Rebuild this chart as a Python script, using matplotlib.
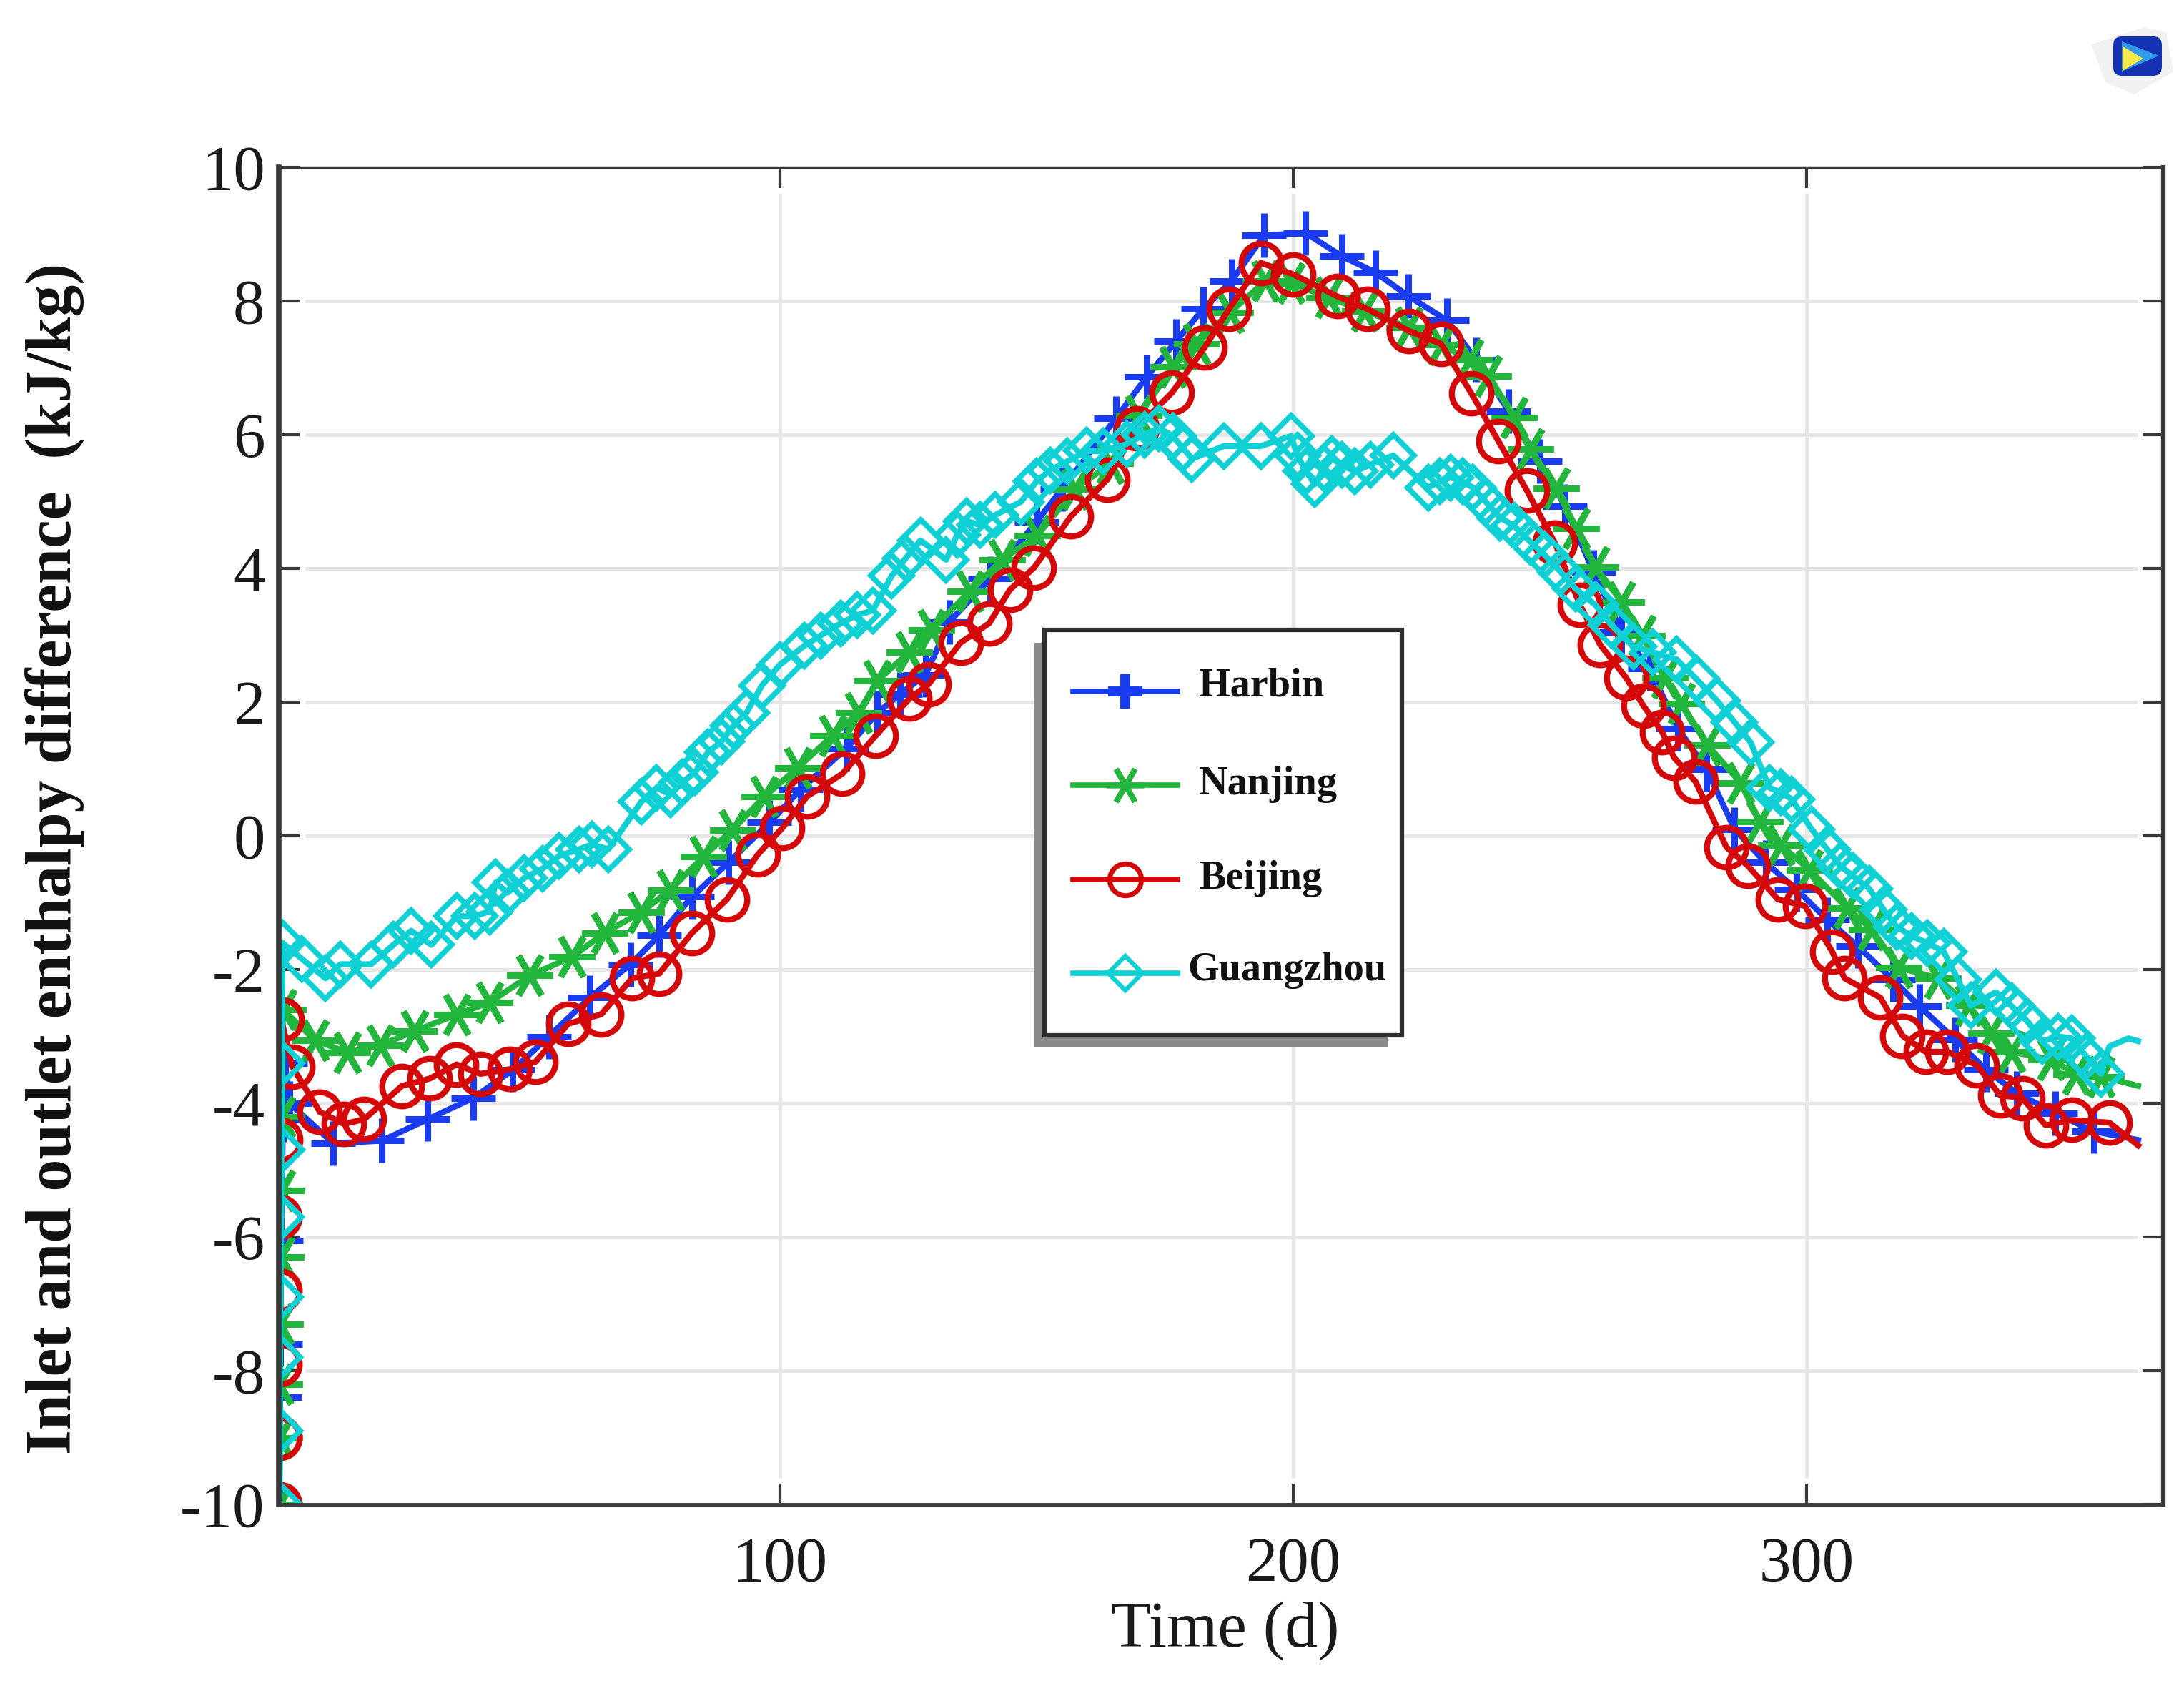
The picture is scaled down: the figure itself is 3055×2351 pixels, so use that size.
import matplotlib
matplotlib.use('Agg')
import matplotlib.pyplot as plt
from matplotlib.lines import Line2D
from matplotlib.patches import FancyBboxPatch, Polygon, Rectangle

W, H = 3055, 2351

harbin_x = [2.5, 2.6, 2.7, 2.8, 3.0, 3.2, 3.6, 4.5, 13, 22.5, 31.4, 40.3, 48, 55, 63, 70.9, 76.5, 82.9, 90, 98,
            104, 113, 119, 123.4, 128.4, 133, 141, 150, 155, 165.5, 171.5, 177.2, 182.5, 188, 194.3, 202.4,
            209.5, 216, 222.5, 230, 235.6, 242, 248, 253, 258.5, 264, 269.5, 275, 280.5, 286, 292, 298, 304,
            310, 316.8, 322, 329, 335, 341, 348.5, 356, 364.6]
harbin_y = [-10, -8.4, -7.6, -6.05, -5.3, -4.25, -3.4, -4.0, -4.6, -4.56, -4.24, -3.92, -3.5, -3.0, -2.42, -1.92,
            -1.49, -0.91, -0.4, 0.2, 0.69, 1.31, 1.84, 2.12, 2.41, 3.2, 3.85, 4.7, 5.19, 6.25, 6.87, 7.4, 7.88,
            8.3, 8.98, 9.02, 8.67, 8.43, 8.07, 7.71, 7.12, 6.35, 5.6, 4.93, 3.95, 3.05, 2.5, 1.6, 1.0, 0.1, -0.4,
            -0.8, -1.25, -1.65, -2.15, -2.55, -3.05, -3.5, -3.85, -4.15, -4.42, -4.55]

nanjing_x = [2.5, 2.6, 2.6, 2.7, 2.8, 2.9, 3.0, 3.2, 9.5, 15.8, 22.2, 28.9, 37.1, 43.5, 51.3, 59.5, 65.9, 73, 78.7,
             85.1, 90.8, 97, 103.5, 110.3, 115.3, 119, 125.2, 129.6, 137, 143.3, 150.1, 157.6, 164.4, 170, 176.6,
             181.2, 187.7, 194.6, 199.6, 207, 213.9, 222.6, 228.8, 234.4, 238.1, 243.1, 246.2, 251.2, 255.2,
             258.9, 264, 268, 272.4, 275.6, 280.7, 287.2, 290.9, 295, 300.6, 307.9, 312.7, 318, 325.6, 331.6,
             335.9, 340, 347.7, 352.5, 357.4, 364.6]
nanjing_y = [-10, -9.0, -8.2, -7.3, -6.3, -5.3, -4.2, -2.6, -3.06, -3.24, -3.13, -2.92, -2.67, -2.49, -2.09, -1.81,
             -1.45, -1.14, -0.81, -0.31, 0.09, 0.59, 1.02, 1.5, 1.84, 2.32, 2.75, 3.08, 3.66, 4.13, 4.49, 5.19,
             5.57, 6.29, 7.02, 7.36, 7.83, 8.3, 8.27, 8.05, 7.85, 7.6, 7.35, 7.12, 6.88, 6.26, 5.79, 5.2, 4.6,
             4.02, 3.5, 3.0, 2.36, 1.98, 1.36, 0.79, 0.21, -0.14, -0.51, -1.08, -1.4, -1.97, -2.13, -2.54, -2.95,
             -3.23, -3.35, -3.56, -3.6, -3.74]

beijing_x = [2.5, 2.5, 2.5, 2.5, 2.6, 2.7, 2.9, 5, 10.4, 15.1, 19, 26.4, 31.8, 37, 41.7, 47.4, 52.4, 58.8, 65.2, 71.2,
             76.5, 82.9, 89.7, 95.7, 100.5, 105.3, 112.2, 118.7, 125.2, 129, 135.2, 140.8, 144.8, 149.5, 156.7,
             163.8, 169.5, 176.4, 182.8, 187.5, 193.7, 200, 208.6, 214.5, 222.6, 228.8, 234.7, 240, 245.5, 251,
             255.9, 259.8, 264.9, 268.2, 271.9, 274.2, 278.4, 284.4, 288.6, 294.4, 299.7, 305, 307.4, 314.4,
             318.7, 323.2, 327.5, 333.2, 337.7, 342, 346.6, 351.7, 359, 364.6]
beijing_y = [-10, -9.0, -7.9, -6.8, -5.7, -4.55, -2.75, -3.45, -4.13, -4.31, -4.24, -3.74, -3.63, -3.42, -3.56,
             -3.49, -3.38, -2.81, -2.67, -2.13, -2.06, -1.45, -0.95, -0.28, 0.12, 0.59, 0.93, 1.5, 2.05, 2.27,
             2.89, 3.18, 3.68, 4.01, 4.78, 5.33, 6.1, 6.63, 7.31, 7.88, 8.57, 8.4, 8.07, 7.88, 7.55, 7.36, 6.62,
             5.9, 5.17, 4.38, 3.45, 2.86, 2.36, 1.95, 1.55, 1.17, 0.81, -0.17, -0.45, -0.95, -1.05, -1.73, -2.13,
             -2.42, -2.99, -3.23, -3.23, -3.43, -3.88, -3.92, -4.33, -4.25, -4.29, -4.63]

guangzhou_x = [2.5, 2.6, 2.6, 2.7, 2.8, 2.9, 3.0, 3.1, 6.9, 11.5, 14.4, 20.4, 24.7, 28.2, 32.1, 37.1, 40.5, 43.5, 44.6,
               47, 50.2, 53.8, 57, 60.9, 63.4, 66.6, 73, 76, 78.7, 81, 83.5, 86, 88.6, 91, 93.5, 96.5, 100, 104.7,
               108, 111.9, 115, 118.1, 121.8, 124.5, 127.4, 132.4, 134.5, 136.4, 139, 142, 147, 150, 152.6, 156,
               159.8, 163, 167.5, 171, 173.8, 176.6, 178.5, 180.3, 186.5, 193.7, 199.6, 200.8, 202.5, 204.2, 206,
               207.6, 209.5, 212, 215, 219.5, 226.3, 228.5, 230.7, 233, 235, 237.5, 240.3, 243, 246.2, 249, 252.1,
               255, 258.9, 262, 266.3, 270, 274.7, 278.5, 282.6, 286, 289.1, 292.8, 295, 297.1, 301, 304, 306.6,
               309, 312.2, 315, 317.6, 320.5, 323.5, 326.7, 329.5, 332, 336.9, 340, 343.1, 346, 349, 351.7, 354.5,
               357.4, 359, 362.7, 364.6]
guangzhou_y = [-10, -8.9, -7.8, -6.9, -5.7, -4.7, -3.4, -1.6, -1.84, -2.13, -1.92, -1.92, -1.63, -1.42, -1.63, -1.2,
               -1.2, -1.13, -0.7, -0.85, -0.63, -0.49, -0.3, -0.2, -0.13, -0.2, 0.51, 0.72, 0.62, 0.8, 0.95, 1.25,
               1.41, 1.65, 1.84, 2.25, 2.56, 2.84, 3.0, 3.18, 3.3, 3.37, 3.89, 4.15, 4.42, 4.13, 4.5, 4.71, 4.65,
               4.8, 5.0, 5.3, 5.47, 5.6, 5.76, 5.75, 5.86, 6.0, 6.1, 5.98, 5.8, 5.64, 5.83, 5.83, 5.98, 5.69, 5.45,
               5.26, 5.5, 5.64, 5.55, 5.45, 5.55, 5.69, 5.21, 5.3, 5.36, 5.3, 5.21, 5.0, 4.76, 4.64, 4.4, 4.2, 3.95,
               3.7, 3.45, 3.15, 2.83, 2.75, 2.64, 2.35, 2.02, 1.7, 1.4, 0.72, 0.65, 0.55, 0.1, -0.2, -0.45, -0.6,
               -0.79, -1.1, -1.36, -1.5, -1.6, -1.73, -2.15, -2.54, -2.34, -2.55, -2.78, -3.07, -3.0, -3.03, -3.3,
               -3.56, -3.15, -3.03, -3.07]

names = ['Harbin', 'Nanjing', 'Beijing', 'Guangzhou']
x_ticks = [100, 200, 300]
y_ticks = [-10, -8, -6, -4, -2, 0, 2, 4, 6, 8, 10]

BLUE = '#1a3cf0'
GREEN = '#22b63c'
RED = '#d40808'
CYAN = '#0fd0d5'
AXIS = '#3a3a3a'
GRID = '#e6e6e6'
ASTERISK = (6, 2, 90)

plt.rcParams['font.family'] = ['Liberation Serif', 'DejaVu Serif']

fig = plt.figure(figsize=(W / 100, H / 100), dpi=100)
ax = fig.add_axes([390 / W, 1 - 2104 / H, (3026 - 390) / W, (2104 - 234) / H])


def px(x, y):
    return x / W, 1 - y / H


ax.hlines(y_ticks[1:-1], 7.5, 364.5, color=GRID, lw=3.5, zorder=1)
ax.vlines(x_ticks, -9.6, 9.6, color=GRID, lw=3.5, zorder=1)

series = [
    (harbin_x, harbin_y, BLUE, '+', 44, 6.5, 1),
    (nanjing_x, nanjing_y, GREEN, ASTERISK, 46, 6.5, 1),
    (beijing_x, beijing_y, RED, 'o', 40, 6.0, 1),
    (guangzhou_x, guangzhou_y, CYAN, 'D', 30, 5.5, 3),
]
for i, (xs, ys, color, marker, size, edge, tail) in enumerate(series):
    ax.plot(xs, ys, color=color, lw=6, marker=marker, ms=size, mew=edge, mfc='none', mec=color,
            markevery=list(range(len(xs) - tail)), zorder=3 + i)

ax.set_xlim(2.4, 369.5)
ax.set_ylim(-10, 10)
ax.set_xticks(x_ticks)
ax.set_xticklabels([str(v) for v in x_ticks])
ax.set_yticks(y_ticks)
ax.set_yticklabels([str(v) for v in y_ticks])
ax.tick_params(axis='both', direction='in', length=21, width=3, color=AXIS, top=True, right=True,
               labelsize=64, labelcolor='#1a1a1a')
ax.tick_params(axis='x', pad=32)
ax.tick_params(axis='y', pad=14)

for side, width in [('left', 5.5), ('right', 4.5), ('bottom', 3.5), ('top', 2.5)]:
    ax.spines[side].set_linewidth(width)
    ax.spines[side].set_color(AXIS)
    ax.spines[side].set_zorder(10)

ax.set_xlabel('Time (d)', fontsize=66, color='#1a1a1a')
ax.xaxis.set_label_coords((1714 - 390) / (3026 - 390), (2104 - 2281) / (2104 - 234), transform=ax.transAxes)
ax.xaxis.label.set_va('center')
ax.set_ylabel('Inlet and outlet enthalpy difference  (kJ/kg)', fontsize=64.5, fontweight='bold', color='#111111')
ax.yaxis.set_label_coords((76 - 390) / (3026 - 390), (2104 - 1201) / (2104 - 234), transform=ax.transAxes)
ax.yaxis.label.set_va('center')

# legend box is laid out by hand, the Guangzhou label hangs further left than the others
tf = fig.transFigure
sx, sy = px(1447, 1464)
fig.add_artist(Rectangle((sx, sy), 494 / W, 565 / H, transform=tf, fc='#8a8a8a', ec='none', zorder=20))
bx, by = px(1461, 1448)
fig.add_artist(Rectangle((bx, by), 500 / W, 567 / H, transform=tf, fc='white', ec='#2e2e2e', lw=4.5, zorder=21))

legend_rows = [
    (names[0], BLUE, '+', 34, 10, 967, 960, 1677),
    (names[1], GREEN, ASTERISK, 38, 5.5, 1098, 1097, 1677),
    (names[2], RED, 'o', 32, 5, 1230, 1229, 1677),
    (names[3], CYAN, 'D', 24, 4.5, 1361, 1357, 1661),
]
for label, color, marker, size, edge, line_y, text_y, text_x in legend_rows:
    x0, y0 = px(1501, line_y)
    x1, _ = px(1647, line_y)
    xm, _ = px(1574, line_y)
    fig.add_artist(Line2D([x0, x1], [y0, y0], transform=tf, color=color, lw=5.5, zorder=22))
    fig.add_artist(Line2D([xm], [y0], transform=tf, marker=marker, ms=size, mew=edge, mfc='none', mec=color,
                          ls='none', zorder=22))
    tx, ty = px(text_x, text_y)
    fig.text(tx, ty, label, fontsize=40.5, fontweight='bold', color='#111111', ha='left', va='center', zorder=23)

# small badge in the top right corner
halo = [px(2925, 62), px(3000, 38), px(3030, 45), px(3040, 100), px(2985, 132), px(2945, 115)]
fig.add_artist(Polygon(halo, closed=True, transform=tf, fc='#f1f1f1', ec='none', zorder=20))
ix, iy = px(2956, 106)
fig.add_artist(FancyBboxPatch((ix, iy), 68 / W, 55 / H, boxstyle='round,pad=0,rounding_size=0.004',
                              mutation_aspect=W / H, transform=tf, fc='#1432b4', ec='none', zorder=21))
fig.add_artist(Polygon([px(2968, 58), px(3020, 78), px(2968, 100)], closed=True, transform=tf, fc='#2f9be8',
                       ec='none', zorder=22))
fig.add_artist(Polygon([px(2969, 65), px(2998, 82), px(2969, 99)], closed=True, transform=tf, fc='#f4e84a',
                       ec='none', zorder=23))

fig.savefig('out.png', dpi=100)
